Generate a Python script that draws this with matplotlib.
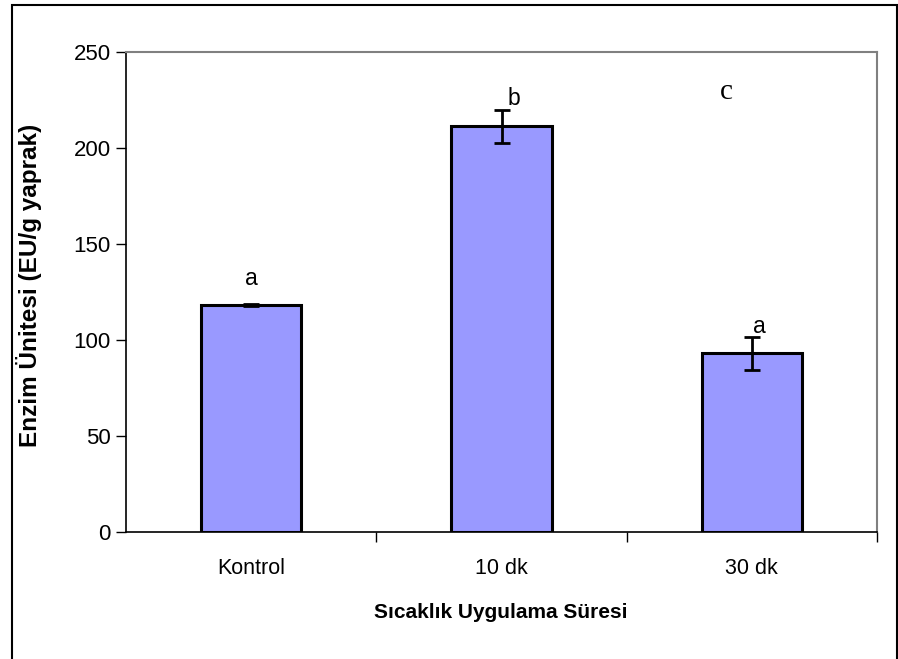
import numpy as np
import matplotlib.pyplot as plt
from matplotlib.patches import Rectangle

# enzim aktivitesi, sicaklik uygulama suresine gore
kategoriler = ['Kontrol', '10 dk', '30 dk']
ortalama = [118.2, 211.2, 93.0]
hata = [0.5, 8.5, 8.5]
harfler = ['a', 'b', 'a']
harf_y = [132, 226, 107]
harf_x = [0.0, 1.05, 2.03]

W, H = 898, 659
plt.rcParams['font.family'] = ['Liberation Sans', 'DejaVu Sans']

fig = plt.figure(figsize=(W/100, H/100), dpi=100)
ax = fig.add_axes([126/W, 1 - 532/H, (877-126)/W, (532-52)/H])

x = np.arange(len(kategoriler))
ax.bar(x, ortalama, width=0.4, color='#9999FF', edgecolor='black', linewidth=2.2, zorder=2)
ax.errorbar(x, ortalama, yerr=hata, fmt='none', ecolor='black', elinewidth=2,
            capsize=6, capthick=2, zorder=3)

# harf etiketleri
for hx, hy, h in zip(harf_x, harf_y, harfler):
    ax.text(hx, hy, h, ha='center', va='center', fontsize=16.5)
ax.text(1.9, 229, 'c', ha='center', va='center', fontsize=21, family='Liberation Serif')

ax.set_xlim(-0.5, 2.5)
ax.set_ylim(0, 250)
ax.set_yticks(np.arange(0, 251, 50))
ax.set_xticks(x)
ax.set_xticklabels(kategoriler)
ax.set_xticks([0.5, 1.5, 2.5], minor=True)
ax.tick_params(axis='x', which='major', length=0, pad=19, labelsize=15.5)
ax.tick_params(axis='x', which='minor', length=7, width=1, direction='out')
ax.tick_params(axis='y', length=7, width=1, direction='out', pad=4, labelsize=16)

for s in ['left', 'bottom']:
    ax.spines[s].set_color('black')
    ax.spines[s].set_linewidth(1.2)
for s in ['top', 'right']:
    ax.spines[s].set_color('#808080')
    ax.spines[s].set_linewidth(1.5)

fig.text(501/W, 1 - 613/H, 'Sıcaklık Uygulama Süresi', ha='center', va='center',
         fontsize=15, fontweight='bold')
fig.text(29/W, 1 - 285/H, 'Enzim Ünitesi (EU/g yaprak)', ha='center', va='center',
         rotation=90, fontsize=17.5, fontweight='bold')

# dis cerceve
fig.patches.append(Rectangle((12/W, -0.05), (897-12)/W, 1.05 - 5/H, transform=fig.transFigure,
                             fill=False, edgecolor='black', linewidth=1.5))

fig.savefig('out.png', dpi=100)
